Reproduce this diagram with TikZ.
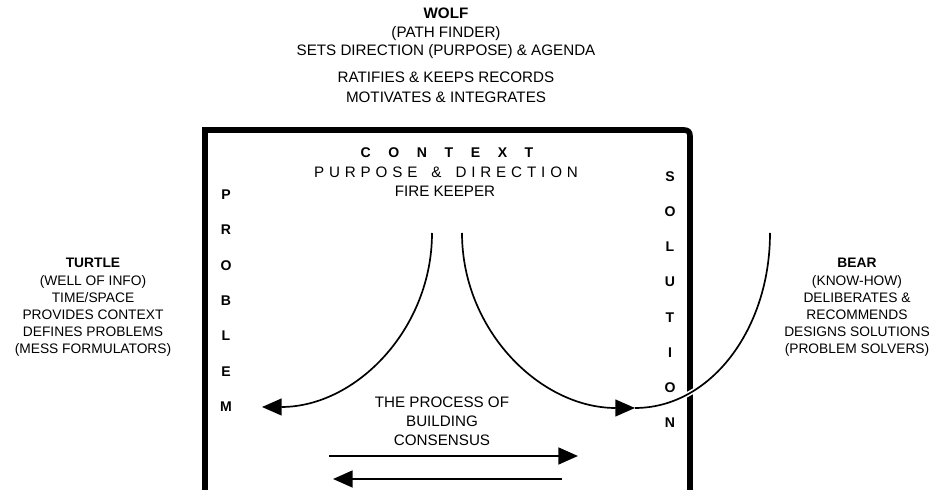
\documentclass[tikz,border=0pt]{standalone}
\usepackage{fontspec}
\setmainfont{Liberation Sans}
\usetikzlibrary{arrows.meta}
\newcommand{\cgap}{\hspace{1.25em}}
\newcommand{\pgap}{\hspace{0.32em}}
\begin{document}
\begin{tikzpicture}[x=0.025cm,y=-0.025cm,
  every node/.style={inner sep=0pt,font=\fontsize{10.8}{13.2}\selectfont},
  role/.style={align=center},
  side/.style={align=center,font=\fontsize{9.8}{12.2}\selectfont},
  letter/.style={font=\fontsize{10}{12}\selectfont\bfseries},
  frame/.style={line width=4pt,line join=miter},
  flow/.style={line width=1.2pt,-{Triangle[length=14pt,width=12pt]}},
  arc/.style={line width=1.2pt}]
  \useasboundingbox (0,0) rectangle (929,490);
  % wolf on top
  \node[role] (wolf) at (446,33.5) {\textbf{WOLF}\\(PATH FINDER)\\SETS DIRECTION (PURPOSE) \& AGENDA};
  \node[role,font=\fontsize{10.8}{14.2}\selectfont] (wolfmore) at (446,87) {RATIFIES \& KEEPS RECORDS\\MOTIVATES \& INTEGRATES};
  % the frame
  \draw[frame] (205,490) -- (205,130) -- (684,130) .. controls (688,130) and (690,132) .. (690,136) -- (690,490);
  \node[letter] (context) at (447,153) {C\cgap O\cgap N\cgap T\cgap E\cgap X\cgap T};
  \node (purpose) at (446,172) {P\pgap U\pgap R\pgap P\pgap O\pgap S\pgap E\pgap\ \pgap\&\pgap\ \pgap D\pgap I\pgap R\pgap E\pgap C\pgap T\pgap I\pgap O\pgap N};
  \node (firekeeper) at (445,191) {FIRE KEEPER};
  % problem side
  \node[letter] (prob1) at (226,195) {P};
  \node[letter] (prob2) at (226,230) {R};
  \node[letter] (prob3) at (226,266) {O};
  \node[letter] (prob4) at (226,301) {B};
  \node[letter] (prob5) at (226,336) {L};
  \node[letter] (prob6) at (226,372) {E};
  \node[letter] (prob7) at (226,407) {M};
  % solution side
  \node[letter] (sol1) at (670,177) {S};
  \node[letter] (sol2) at (670,212) {O};
  \node[letter] (sol3) at (670,247) {L};
  \node[letter] (sol4) at (670,282) {U};
  \node[letter] (sol5) at (670,318) {T};
  \node[letter] (sol6) at (670,353) {I};
  \node[letter] (sol7) at (670,388) {O};
  \node[letter] (sol8) at (670,423) {N};
  % turtle and bear
  \node[side] (turtle) at (93,307.5) {\textbf{TURTLE}\\(WELL OF INFO)\\TIME/SPACE\\PROVIDES CONTEXT\\DEFINES PROBLEMS\\(MESS FORMULATORS)};
  \node[side] (bear) at (857,307.5) {\textbf{BEAR}\\(KNOW-HOW)\\DELIBERATES \&\\RECOMMENDS\\DESIGNS SOLUTIONS\\(PROBLEM SOLVERS)};
  \node[role,font=\fontsize{10.8}{13.5}\selectfont] (process) at (442,421) {THE PROCESS OF\\BUILDING\\CONSENSUS};
  % ends of the curves
  \coordinate (ltop) at (432,233);
  \coordinate (ltip) at (262,407);
  \coordinate (rtop) at (462,233);
  \coordinate (rtip) at (635,408);
  \coordinate (btop) at (770,233);
  \coordinate (fwdL) at (329,456);
  \coordinate (fwdR) at (578,456);
  \coordinate (backR) at (562,479);
  \coordinate (backL) at (333,479);
  \draw[white,line width=3.5pt] (btop) .. controls +(0,97) and +(75,0) .. (rtip);
  \draw[arc] (btop) .. controls +(0,97) and +(75,0) .. (rtip);
  \draw[flow] (ltop) .. controls +(0,96) and +(94,0) .. (ltip);
  \draw[flow] (rtop) .. controls +(0,97) and +(-95,0) .. (rtip);
  \draw[flow,line width=1.5pt] (fwdL) -- (fwdR);
  \draw[flow,line width=1.5pt] (backR) -- (backL);
\end{tikzpicture}
\end{document}
